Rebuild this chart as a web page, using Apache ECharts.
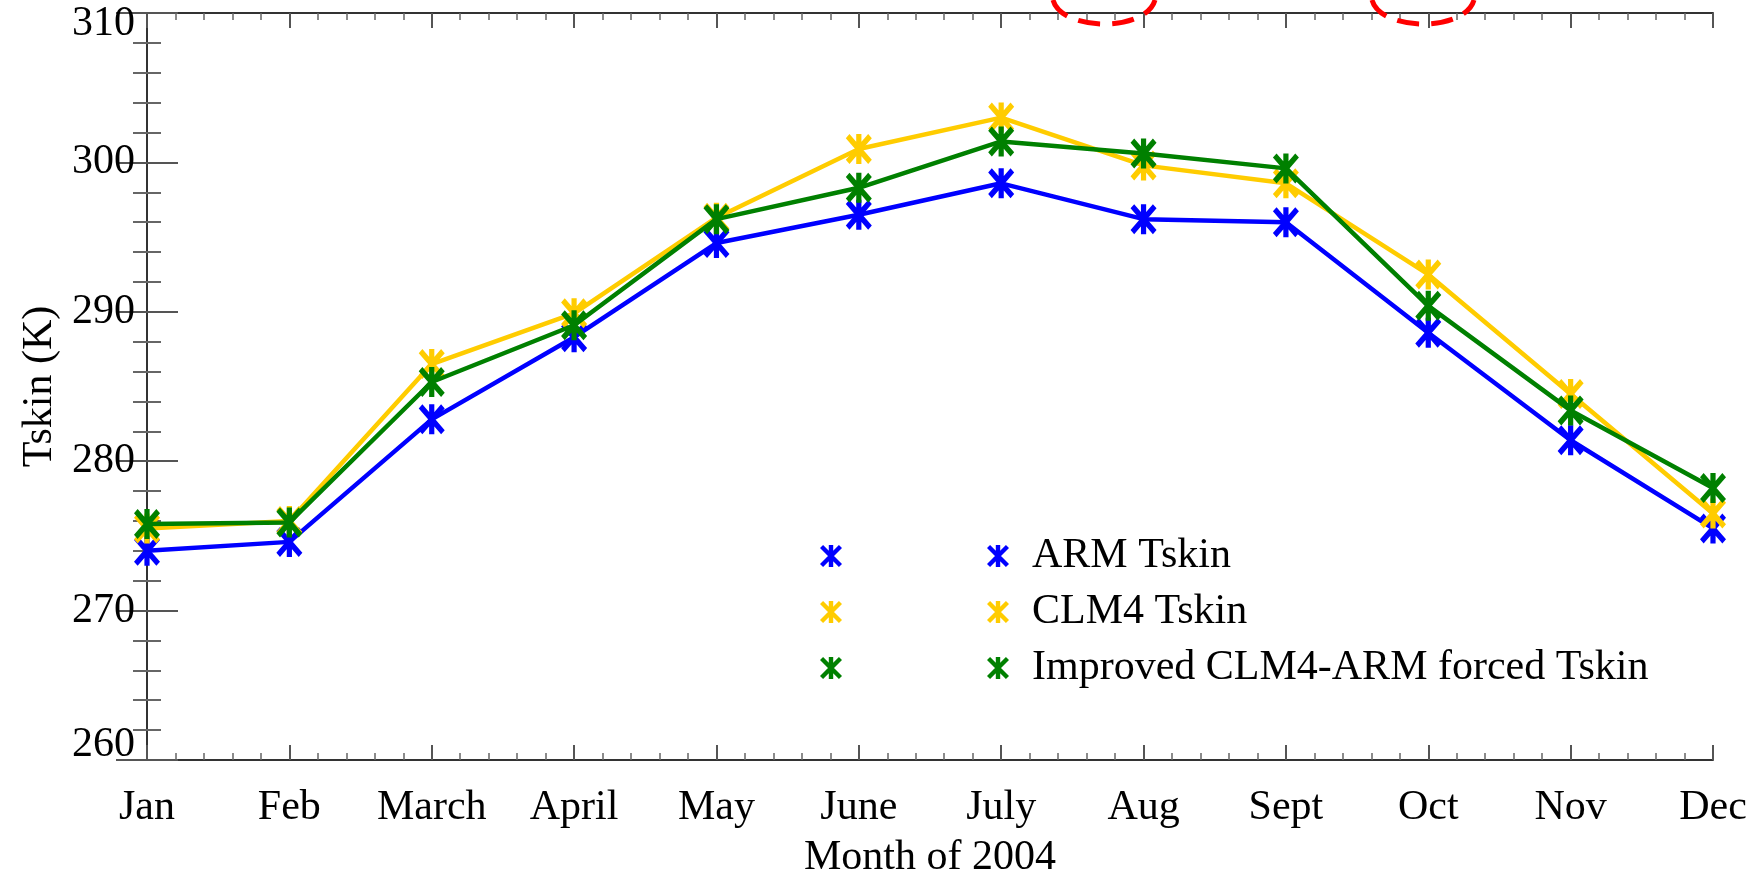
<!DOCTYPE html>
<html>
<head>
<meta charset="utf-8">
<script src="https://cdn.jsdelivr.net/npm/echarts@6/dist/echarts.min.js"></script>
<style>
html,body{margin:0;padding:0;background:#fff;}
#chart{width:1763px;height:874px;}
</style>
</head>
<body>
<div id="chart"></div>
<script>
// ---- data ----
const months = ['Jan','Feb','March','April','May','June','July','Aug','Sept','Oct','Nov','Dec'];
const seriesNames = ['ARM Tskin','CLM4 Tskin','Improved CLM4-ARM forced Tskin'];
const armTskin      = [274.0, 274.6, 282.8, 288.3, 294.6, 296.5, 298.6, 296.2, 296.0, 288.6, 281.4, 275.5];
const clm4Tskin     = [275.5, 276.0, 286.5, 289.9, 296.3, 300.9, 303.0, 299.8, 298.6, 292.5, 284.5, 276.5];
const improvedTskin = [275.8, 275.9, 285.3, 289.1, 296.2, 298.3, 301.4, 300.6, 299.6, 290.4, 283.4, 278.2];
const yMin = 260, yMax = 310, yStep = 10;
const xTitle = 'Month of 2004';
const yTitle = 'Tskin (K)';

const colors = ['#0000ff', '#ffcc00', '#008000'];
const FONT = "'Liberation Serif', 'Times New Roman', serif";
const STAR = 'path://M40,0L60,0L60,100L40,100Z M14,0L100,86L86,100L0,14Z M86,0L100,14L14,100L0,86Z';

const chart = echarts.init(document.getElementById('chart'));
const values = [armTskin, clm4Tskin, improvedTskin];

const axisLine = {show: true, lineStyle: {color: '#333', width: 2}};
function xAxisDef(pos) {
  return {
    type: 'value', position: pos, min: 0, max: months.length - 1, interval: 1,
    axisLine: axisLine,
    axisTick: {show: true, inside: true, length: 15, lineStyle: {color: '#555', width: 2}},
    minorTick: {show: true, splitNumber: 5, length: 7, lineStyle: {color: '#666', width: 1.5}},
    splitLine: {show: false},
    axisLabel: pos === 'bottom' ? {
      show: true, margin: 27, color: '#000', fontFamily: FONT, fontSize: 42,
      formatter: v => months[v] !== undefined ? months[v] : ''
    } : {show: false},
    name: pos === 'bottom' ? xTitle : '',
    nameLocation: 'middle', nameGap: 77,
    nameTextStyle: {color: '#000', fontFamily: FONT, fontSize: 42}
  };
}
const labelTxt = {color: '#000', fontFamily: FONT, fontSize: 42};
function yAxisDef(pos) {
  return {
    type: 'value', position: pos, min: yMin, max: yMax, interval: yStep,
    axisLine: axisLine,
    axisTick: {show: true, inside: true, length: 31, lineStyle: {color: '#555', width: 2}},
    minorTick: {show: true, splitNumber: 5, length: 14, lineStyle: {color: '#666', width: 2}},
    splitLine: {show: false},
    axisLabel: pos === 'left' ? {
      show: true, margin: 12, color: '#000', fontFamily: FONT, fontSize: 42,
      showMinLabel: true, showMaxLabel: true,
      formatter: v => v === yMax ? '{t|' + v + '}' : (v === yMin ? '{b|' + v + '}' : String(v)),
      rich: {
        t: Object.assign({padding: [22, 0, 0, 0]}, labelTxt),
        b: Object.assign({padding: [0, 0, 30, 0]}, labelTxt)
      }
    } : {show: false},
    name: pos === 'left' ? yTitle : '',
    nameLocation: 'middle', nameRotate: 90, nameGap: 81,
    nameTextStyle: {color: '#000', fontFamily: FONT, fontSize: 42}
  };
}

const series = seriesNames.map((n, k) => ({
  name: n, type: 'line', xAxisIndex: 0, yAxisIndex: 0,
  data: values[k].map((v, i) => [i, v]),
  symbol: STAR, symbolSize: [26, 30], showAllSymbol: true,
  lineStyle: {color: colors[k], width: 4.5},
  itemStyle: {color: colors[k]},
  emphasis: {disabled: true},
  z: 2 + k
}));

function legendDef(left, withText) {
  return {
    orient: 'vertical', left: left, top: 530,
    itemWidth: 22, itemHeight: 28, itemGap: 14,
    icon: STAR, selectedMode: false,
    data: seriesNames,
    formatter: withText ? (n => n) : (() => ' '),
    textStyle: {color: '#000', fontFamily: FONT, fontSize: 42, lineHeight: 42, padding: [0, 0, 0, 18]}
  };
}

chart.setOption({
  animation: false,
  backgroundColor: '#fff',
  grid: {left: 147, right: 50, top: 13, bottom: 114, containLabel: false, outerBoundsMode: 'none'},
  xAxis: [xAxisDef('bottom'), xAxisDef('top')],
  yAxis: [yAxisDef('left'), yAxisDef('right')],
  legend: [legendDef(815, false), legendDef(982, true)],
  series: series,
  graphic: [
    {type: 'bezierCurve', shape: {x1: 1053, y1: 0, cpx1: 1062, cpy1: 32, cpx2: 1146, cpy2: 32, x2: 1155, y2: 0},
     style: {stroke: '#ff0000', lineWidth: 5, lineDash: [22, 12], fill: null}, z: 10},
    {type: 'bezierCurve', shape: {x1: 1372, y1: 0, cpx1: 1381, cpy1: 32, cpx2: 1465, cpy2: 32, x2: 1474, y2: 0},
     style: {stroke: '#ff0000', lineWidth: 5, lineDash: [22, 12], fill: null}, z: 10}
  ]
});
</script>
</body>
</html>
